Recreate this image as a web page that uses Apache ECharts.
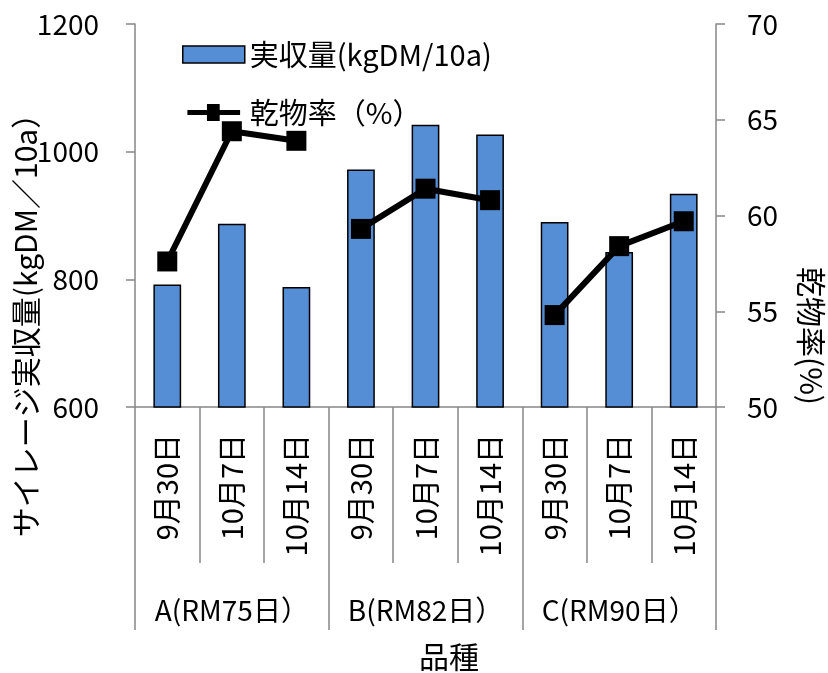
<!DOCTYPE html>
<html>
<head>
<meta charset="utf-8">
<script src="https://cdn.jsdelivr.net/npm/echarts@6/dist/echarts.min.js"></script>
<style>
  html, body { margin: 0; padding: 0; background: #fff; }
  #chart { width: 828px; height: 673px; }
</style>
</head>
<body>
<div id="chart"></div>
<script>
// Harvest dates within each variety, and the varieties themselves
const dates = ['9月30日', '10月7日', '10月14日', '9月30日', '10月7日', '10月14日', '9月30日', '10月7日', '10月14日'];
const varieties = ['A(RM75日）', 'B(RM82日）', 'C(RM90日）'];

// Actual yield (kgDM/10a), bars on the left axis
const yieldValues = [792, 887, 788, 972, 1042, 1027, 890, 843, 934];
// Dry matter ratio (%), line on the right axis
const dmRatio = [57.6, 64.4, 63.9, 59.3, 61.4, 60.8, 54.8, 58.4, 59.7];

const yieldName = '実収量(kgDM/10a)';
const dmName = '乾物率（%）';

const FONT = '"Noto Sans CJK JP", "Noto Sans", sans-serif';
const AXIS_GRAY = '#868686';
const DATES_PER_VARIETY = 3;

// Legend icon for the line: a thick stroke with a square marker in the middle
const LINE_MARKER_ICON = 'path://M0,7 L23,7 L23,0 L38,0 L38,7 L62,7 L62,13 L38,13 L38,20 L23,20 L23,13 L0,13 Z';

// The dry matter line is broken between varieties: one line series per variety
const dmSeries = varieties.map((v, g) => ({
  name: dmName,
  type: 'line',
  xAxisIndex: 0,
  yAxisIndex: 1,
  data: dmRatio.map((val, i) => (Math.floor(i / DATES_PER_VARIETY) === g ? val : null)),
  connectNulls: false,
  symbol: 'rect',
  symbolSize: 20,
  lineStyle: { color: '#000', width: 6 },
  itemStyle: { color: '#000' },
  z: 5
}));

const chart = echarts.init(document.getElementById('chart'), null, { renderer: 'canvas' });

chart.setOption({
  backgroundColor: '#ffffff',
  animation: false,
  textStyle: { fontFamily: FONT, color: '#000' },
  grid: { left: 135, right: 112, top: 24, bottom: 266, containLabel: false },
  legend: {
    orient: 'vertical',
    left: 177,
    top: 35,
    itemWidth: 62,
    itemHeight: 17,
    itemGap: 29,
    textStyle: { fontFamily: FONT, fontSize: 29, color: '#000' },
    data: [
      { name: yieldName, icon: 'rect', itemStyle: { color: '#558ed5', borderColor: '#000', borderWidth: 1.5 } },
      { name: dmName, icon: LINE_MARKER_ICON, itemStyle: { color: '#000', borderWidth: 0 } }
    ]
  },
  xAxis: [
    {
      type: 'category',
      data: dates,
      position: 'bottom',
      axisLine: { show: true, lineStyle: { color: AXIS_GRAY, width: 1.5 } },
      axisTick: { show: true, interval: 0, length: 156, lineStyle: { color: AXIS_GRAY, width: 1.5 } },
      axisLabel: { interval: 0, rotate: 90, margin: 27, fontSize: 29, fontFamily: FONT, color: '#000' },
      splitLine: { show: false }
    },
    {
      type: 'category',
      data: varieties,
      position: 'bottom',
      axisLine: { show: false },
      axisTick: { show: true, interval: 0, length: 223, lineStyle: { color: AXIS_GRAY, width: 1.5 } },
      axisLabel: { interval: 0, margin: 189, fontSize: 28, fontFamily: FONT, color: '#000' },
      splitLine: { show: false }
    }
  ],
  yAxis: [
    {
      type: 'value',
      min: 600, max: 1200, interval: 200,
      position: 'left',
      axisLine: { show: true, lineStyle: { color: AXIS_GRAY, width: 1.5 } },
      axisTick: { show: true, length: 9, lineStyle: { color: AXIS_GRAY, width: 1.5 } },
      axisLabel: { margin: 36, fontSize: 28, fontFamily: FONT, color: '#000', formatter: v => String(v) },
      splitLine: { show: false }
    },
    {
      type: 'value',
      min: 50, max: 70, interval: 5,
      position: 'right',
      axisLine: { show: true, lineStyle: { color: AXIS_GRAY, width: 1.5 } },
      axisTick: { show: true, length: 9, lineStyle: { color: AXIS_GRAY, width: 1.5 } },
      axisLabel: { margin: 31, fontSize: 28, fontFamily: FONT, color: '#000', formatter: v => String(v) },
      splitLine: { show: false }
    }
  ],
  series: [
    {
      name: yieldName,
      type: 'bar',
      xAxisIndex: 0,
      yAxisIndex: 0,
      data: yieldValues,
      barWidth: '43%',
      itemStyle: { color: '#558ed5', borderColor: '#000', borderWidth: 1.5 },
      z: 2
    },
    ...dmSeries
  ],
  graphic: [
    {
      type: 'text',
      x: 26, y: 318,
      rotation: Math.PI / 2,
      style: {
        text: 'サイレージ実収量(kgDM／10a）',
        fontFamily: FONT, fontSize: 30, fill: '#000',
        align: 'center', verticalAlign: 'middle'
      }
    },
    {
      type: 'text',
      x: 811, y: 336,
      rotation: -Math.PI / 2,
      style: {
        text: '乾物率(%)',
        fontFamily: FONT, fontSize: 30, fill: '#000',
        align: 'center', verticalAlign: 'middle'
      }
    },
    {
      type: 'text',
      x: 449, y: 657,
      style: {
        text: '品種',
        fontFamily: FONT, fontSize: 30, fill: '#000',
        align: 'center', verticalAlign: 'middle'
      }
    }
  ]
});
</script>
</body>
</html>
